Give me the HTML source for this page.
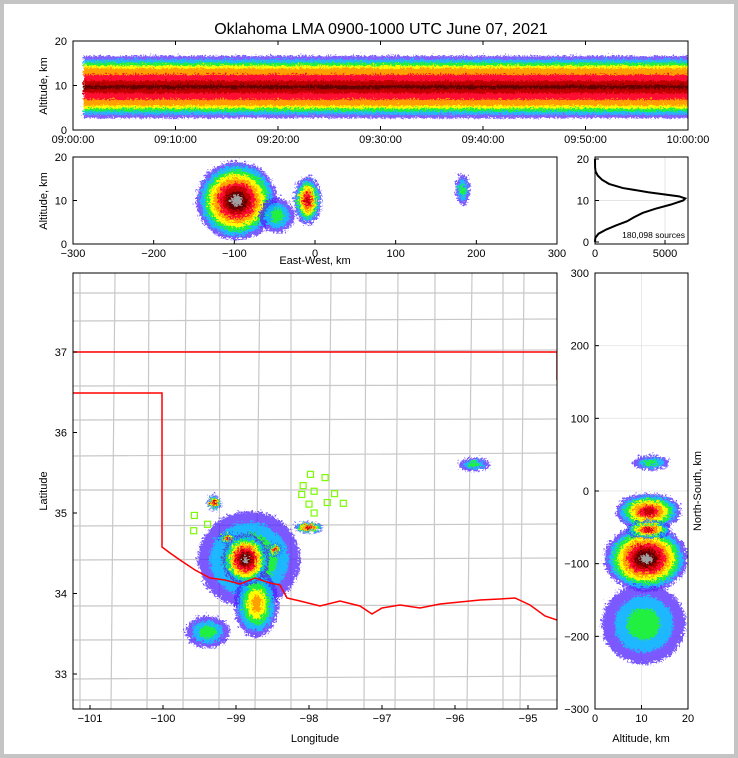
<!DOCTYPE html>
<html><head><meta charset="utf-8"><style>
html,body{margin:0;padding:0;background:#fff;}
#wrap{width:738px;height:758px;box-sizing:border-box;border:4px solid #c4c4c4;background:#fff;position:relative;}
svg{position:absolute;left:-4px;top:-4px;font-family:"Liberation Sans",sans-serif;}
</style></head><body>
<div id="wrap">
<svg id="s" width="738" height="758" viewBox="0 0 738 758">
<defs>
<filter id="rough" x="-20%" y="-20%" width="140%" height="140%">
<feTurbulence type="turbulence" baseFrequency="0.35" numOctaves="2" seed="3" result="n"/>
<feDisplacementMap in="SourceGraphic" in2="n" scale="9" xChannelSelector="R" yChannelSelector="G"/>
</filter>
<filter id="roughS" x="-5%" y="-30%" width="110%" height="160%">
<feTurbulence type="turbulence" baseFrequency="0.4" numOctaves="2" seed="7" result="n"/>
<feDisplacementMap in="SourceGraphic" in2="n" scale="6" xChannelSelector="R" yChannelSelector="G"/>
</filter>
</defs>
<text x="381" y="34" font-size="16" text-anchor="middle">Oklahoma LMA 0900-1000 UTC June 07, 2021</text>
</svg>
</div>
<script>
// ---- data ----
var timeTicks=["09:00:00","09:10:00","09:20:00","09:30:00","09:40:00","09:50:00","10:00:00"];
var altTicks=[0,10,20];
var ewTicks=[-300,-200,-100,0,100,200,300];
var lonTicks=[-101,-100,-99,-98,-97,-96,-95];
var latTicks=[33,34,35,36,37];
var nsTicks=[-300,-200,-100,0,100,200,300];
var histCountTicks=[0,5000];
// time-height band altitude bounds per color layer [low, high] km
var bandLow=[3,3.8,4.5,5.2,5.8,7.2,8.6,9.6];
var bandHigh=[17,16.2,15.5,14.8,14.2,12.8,11.4,10.4];
var histAlt=[0,1,2,3,4,5,6,7,8,9,10,10.5,11,12,13,14,15,16,17,18,20];
var histCount=[0,20,250,800,1500,2300,2800,3400,4300,5400,6300,6450,6000,3800,2000,1000,500,200,40,5,0];
// storm clusters in map: lon, lat, radius lon, radius lat, layers
var cellLon=[-98.85,-98.75,-99.42,-99.33,-98.5,-98.04,-95.77,-99.15,-98.9];
var cellLat=[34.45,33.9,33.55,35.16,34.57,34.85,35.63,34.72,34.45];
var cellRLon=[0.7,0.3,0.3,0.09,0.1,0.2,0.22,0.12,0.32];
var cellRLat=[0.6,0.42,0.2,0.1,0.08,0.07,0.08,0.06,0.32];
var cellLayers=[4,5,3,7,7,7,3,7,9];
// EW-altitude clusters
var ewKm=[-100,-12,-50,180];
var ewAlt=[10.5,10.5,7,13];
var ewRKm=[50,17,22,9];
var ewRAlt=[9,5.5,4,3.5];
var ewLayers=[9,7,3,3];
// NS-altitude clusters
var nsKm=[-180,-90,-25,-50,42];
var nsAlt=[10,10.5,11,11,11.5];
var nsRKm=[55,45,25,12,10];
var nsRAlt=[9,9,7,5,4];
var nsLayers=[3,9,7,7,3];
// stations
var staLon=[-97.98,-97.78,-98.08,-97.93,-98.1,-97.65,-98.0,-97.75,-97.53,-97.93,-99.57,-99.39,-99.58];
var staLat=[35.48,35.44,35.34,35.27,35.23,35.24,35.11,35.13,35.12,35.0,34.97,34.86,34.78];
var colors=["#5020ff","#00d8ff","#20f040","#ffff00","#ffa000","#ff1030","#c00000","#600000","#a0a0a0","#e8e8e8"];

var S=document.getElementById('s'),NS='http://www.w3.org/2000/svg';
function mk(t,a,p){var e=document.createElementNS(NS,t);for(var k in a)e.setAttribute(k,a[k]);(p||S).appendChild(e);return e;}
function txt(x,y,s,anc,size,rot){var e=mk('text',{x:x,y:y,'font-size':size||11,'text-anchor':anc||'middle'});if(rot)e.setAttribute('transform','rotate(-90 '+x+' '+y+')');e.textContent=s;return e;}
function lin(a,b,c,d,col,w){return mk('line',{x1:a,y1:b,x2:c,y2:d,stroke:col||'#000','stroke-width':w||1});}
function frame(x0,y0,x1,y1,name){var r=mk('rect',{x:x0,y:y0,width:x1-x0,height:y1-y0,fill:'none',stroke:'#000','stroke-width':1});return r;}
function blob(cx,cy,rx,ry,n,g){for(var i=0;i<n;i++){var f=1-i/(n+0.3);mk('ellipse',{cx:cx,cy:cy,rx:Math.max(1,rx*f),ry:Math.max(1,ry*f),fill:colors[i],'fill-opacity':i<2?0.75:1},g);}}
function clip(id,x0,y0,x1,y1){var c=mk('clipPath',{id:id});mk('rect',{x:x0,y:y0,width:x1-x0,height:y1-y0},c);}

// ---- panel 1: time-height ----
var P1={x0:73,x1:688,y0:41,y1:130};
function tX(i){return P1.x0+i*(P1.x1-P1.x0)/(timeTicks.length-1);}
function aY1(a){return P1.y1-a*(P1.y1-P1.y0)/20;}
clip('c1',P1.x0,P1.y0,P1.x1,P1.y1);
var g1w=mk('g',{'clip-path':'url(#c1)'});
var g1=mk('g',{filter:'url(#roughS)'},g1w);
for(var i=0;i<bandLow.length;i++){mk('rect',{x:82,y:aY1(bandHigh[i]),width:P1.x1-80,height:aY1(bandLow[i])-aY1(bandHigh[i]),fill:colors[i],'fill-opacity':i<2?0.7:1},g1);}
frame(P1.x0,P1.y0,P1.x1,P1.y1,'time-height-frame');
timeTicks.forEach(function(t,i){lin(tX(i),P1.y1,tX(i),P1.y1-4);lin(tX(i),P1.y0,tX(i),P1.y0+4);var e=txt(tX(i),143,t);});
altTicks.forEach(function(a){lin(P1.x0,aY1(a),P1.x0+4,aY1(a));txt(67,aY1(a)+4,a,'end');});
var l=txt(47,86,'Altitude, km','middle',11,true);

// ---- panel 2: EW-altitude ----
var P2={x0:73,x1:557,y0:157,y1:244};
function eX(k){return P2.x0+(k+300)*(P2.x1-P2.x0)/600;}
function aY2(a){return P2.y1-a*(P2.y1-P2.y0)/20;}
clip('c2',P2.x0,P2.y0,P2.x1,P2.y1);
var g2w=mk('g',{'clip-path':'url(#c2)'});
var g2=mk('g',{filter:'url(#rough)'},g2w);
ewKm.forEach(function(k,i){blob(eX(k),aY2(ewAlt[i]),ewRKm[i]*(P2.x1-P2.x0)/600,ewRAlt[i]*(P2.y1-P2.y0)/20,ewLayers[i],g2);});
frame(P2.x0,P2.y0,P2.x1,P2.y1,'ew-altitude-frame');
ewTicks.forEach(function(k){lin(eX(k),P2.y1,eX(k),P2.y1-4);var e=txt(eX(k),257,k<0?'\u2212'+(-k):k);});
altTicks.forEach(function(a){lin(P2.x0,aY2(a),P2.x0+4,aY2(a));txt(67,aY2(a)+4,a,'end');});
txt(47,201,'Altitude, km','middle',11,true);
txt(315,264,'East-West, km');

// ---- panel 3: histogram ----
var P3={x0:595,x1:688,y0:157,y1:244};
function hX(c){return P3.x0+c*70/5000;}
function hY(a){return 242-a*83/20;}
[5000].forEach(function(c){lin(hX(c),P3.y0,hX(c),P3.y1,'#e4e4e4');});
[10].forEach(function(a){lin(P3.x0,hY(a),P3.x1,hY(a),'#e4e4e4');});
var pts=histAlt.map(function(a,i){return hX(histCount[i])+','+hY(a);}).join(' ');
var pl=mk('polyline',{points:pts,fill:'none',stroke:'#000','stroke-width':2});
frame(P3.x0,P3.y0,P3.x1,P3.y1,'histogram-frame');
histCountTicks.forEach(function(c){lin(hX(c),P3.y1,hX(c),P3.y1-4);txt(hX(c),257,c);});
altTicks.forEach(function(a){lin(P3.x0,hY(a),P3.x0+4,hY(a));txt(589,hY(a)+4,a,'end');});
txt(685,238,'180,098 sources','end',8.5);

// ---- panel 4: map ----
var P4={x0:73,x1:557,y0:273,y1:709};
function mX(lon){return 90+(lon+101)*73;}
function mY(lat){return 352-(lat-37)*80.5;}
clip('c4',P4.x0,P4.y0,P4.x1,P4.y1);
var g4=mk('g',{'clip-path':'url(#c4)'});
var cg=mk('g',{stroke:'#c8c8c8','stroke-width':1.2},g4);
[80,114,147,186,219,258,291,330,364,398,434,470,503,523].forEach(function(x,i){mk('line',{x1:x+(i%3),y1:P4.y0,x2:x-(i%2)*3,y2:P4.y1},cg);});
[293,320,352,385,420,455,490,525,560,605,640,678,700].forEach(function(y,i){mk('line',{x1:P4.x0,y1:y+(i%2),x2:P4.x1,y2:y-(i%3)},cg);});
var sg=mk('g',{filter:'url(#rough)'},g4);
cellLon.forEach(function(lo,i){blob(mX(lo),mY(cellLat[i]),cellRLon[i]*73,cellRLat[i]*80.5,cellLayers[i],sg);});
mk('polyline',{points:'73,352 557,352 557,380',fill:'none',stroke:'#ff0000','stroke-width':1.5},g4);
var rr=mk('polyline',{points:'73,393 162,393 162,547 170,553 180,560 195,570 210,578 225,580 240,584 255,578 270,583 280,585 287,598 300,601 320,606 340,601 360,606 372,614 382,608 400,605 420,608 440,604 460,602 480,600 500,599 515,598 530,605 545,616 557,620',fill:'none',stroke:'#ff0000','stroke-width':1.5},g4);

staLon.forEach(function(lo,i){var r=mk('rect',{x:mX(lo)-3,y:mY(staLat[i])-3,width:6,height:6,fill:'none',stroke:'#7cfc00','stroke-width':1.2},g4);});
frame(P4.x0,P4.y0,P4.x1,P4.y1,'map-frame');
lonTicks.forEach(function(lo){lin(mX(lo),P4.y1,mX(lo),P4.y1-4);var e=txt(mX(lo),722,'\u2212'+(-lo));});
latTicks.forEach(function(la){lin(P4.x0,mY(la),P4.x0+4,mY(la));txt(67,mY(la)+4,la,'end');});
txt(315,742,'Longitude');
txt(47,491,'Latitude','middle',11,true);

// ---- panel 5: NS-altitude ----
var P5={x0:595,x1:688,y0:273,y1:709};
function nY(k){return 491-k*0.7267;}
function nX(a){return P5.x0+a*(P5.x1-P5.x0)/20;}
nsTicks.forEach(function(k){lin(P5.x0,nY(k),P5.x1,nY(k),'#e8e8e8');});
[10].forEach(function(a){lin(nX(a),P5.y0,nX(a),P5.y1,'#e8e8e8');});
clip('c5',P5.x0,P5.y0,P5.x1,P5.y1);
var g5w=mk('g',{'clip-path':'url(#c5)'});
var g5=mk('g',{filter:'url(#rough)'},g5w);
nsKm.forEach(function(k,i){blob(nX(nsAlt[i]),nY(k),nsRAlt[i]*(P5.x1-P5.x0)/20,nsRKm[i]*0.7267,nsLayers[i],g5);});
frame(P5.x0,P5.y0,P5.x1,P5.y1,'ns-altitude-frame');
nsTicks.forEach(function(k){lin(P5.x0,nY(k),P5.x0+4,nY(k));txt(589,nY(k)+4,k<0?'\u2212'+(-k):k,'end');});
altTicks.forEach(function(a){lin(nX(a),P5.y1,nX(a),P5.y1-4);txt(nX(a),722,a);});
txt(641,742,'Altitude, km');
txt(701,491,'North-South, km','middle',11,true);
</script>
</body></html>
